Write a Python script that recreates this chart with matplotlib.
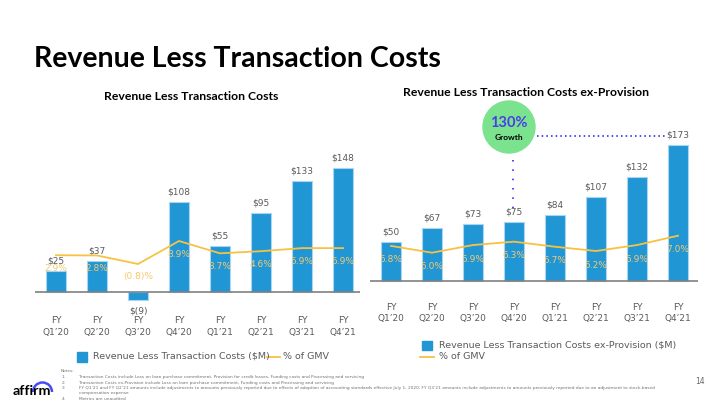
import matplotlib
matplotlib.use("Agg")
import matplotlib.pyplot as plt
from matplotlib.patches import Circle, Rectangle, Arc

# ---------------- data ----------------
quarters = ["FY\nQ1\u201920", "FY\nQ2\u201920", "FY\nQ3\u201920", "FY\nQ4\u201920",
            "FY\nQ1\u201921", "FY\nQ2\u201921", "FY\nQ3\u201921", "FY\nQ4\u201921"]
rev_less_tc = [25, 37, -9, 108, 55, 95, 133, 148]
rev_less_tc_pct = [2.9, 2.8, -0.8, 8.9, 3.7, 4.6, 5.9, 5.9]
rev_ex_prov = [50, 67, 73, 75, 84, 107, 132, 173]
rev_ex_prov_pct = [5.8, 5.0, 5.9, 6.3, 5.7, 5.2, 5.9, 7.0]
growth_label = "130%"

BLUE = "#2196D5"
EDGE = "#a8d5f2"
YEL = "#F7C244"
YEL_TXT = "#F5C96E"
GRAY = "#5a5a5a"
TITLE_FONT = ["Lato", "DejaVu Sans"]

W, H = 720, 405
fig = plt.figure(figsize=(7.2, 4.05), dpi=100)


def px_axes(left, top, right, bottom):
    return fig.add_axes([left / W, (H - bottom) / H, (right - left) / W, (bottom - top) / H])


def money(v):
    return f"$({abs(v)})" if v < 0 else f"${v}"


def pct(v):
    return f"({abs(v):.1f})%" if v < 0 else f"{v:.1f}%"


def panel(ax, vals, pcts, zero_px, top_px, bot_px, px_per_unit, pct_zero_px, px_per_pct,
          first_center, spacing, left_px, right_px, tick_pad, pct_off):
    x = list(range(len(vals)))
    ax.set_xlim((left_px - first_center) / spacing, (right_px - first_center) / spacing)
    ax.set_ylim(-(bot_px - zero_px) / px_per_unit, (zero_px - top_px) / px_per_unit)
    ax.bar(x, vals, width=20 / spacing, color=BLUE, edgecolor=EDGE, linewidth=0.8, zorder=2)
    ax.axhline(0, color="#808080", lw=1.2, zorder=3)
    for s in ax.spines.values():
        s.set_visible(False)
    ax.set_yticks([])
    ax.set_xticks(x)
    ax.set_xticklabels(quarters, fontsize=6.5, color=GRAY, linespacing=1.35)
    ax.tick_params(axis="x", length=0, pad=tick_pad)
    for xi, v in zip(x, vals):
        ax.annotate(money(v), (xi, v), xytext=(0, 10 if v >= 0 else -11),
                    textcoords="offset pixels", ha="center", va="center",
                    fontsize=6.5, color=GRAY, zorder=5)
    ax2 = ax.twinx()
    ax2.set_ylim((pct_zero_px - bot_px) / px_per_pct, (pct_zero_px - top_px) / px_per_pct)
    ax2.plot(x, pcts, color=YEL, lw=1.3, zorder=4)
    for xi, p in zip(x, pcts):
        ax2.annotate(pct(p), (xi, p), xytext=(0, -pct_off), textcoords="offset pixels",
                     ha="center", va="center", fontsize=6.5, color=YEL_TXT, zorder=5)
    ax2.set_yticks([])
    for s in ax2.spines.values():
        s.set_visible(False)
    return ax, ax2


# left panel
axL = px_axes(35, 150, 360, 305)
panel(axL, rev_less_tc, rev_less_tc_pct, zero_px=292, top_px=150, bot_px=305,
      px_per_unit=0.836, pct_zero_px=262.1, px_per_pct=2.37,
      first_center=56, spacing=41, left_px=35, right_px=360, tick_pad=8, pct_off=13)

# right panel
axR = px_axes(370, 130, 698, 290)
panel(axR, rev_ex_prov, rev_ex_prov_pct, zero_px=281, top_px=130, bot_px=290,
      px_per_unit=0.786, pct_zero_px=295.2, px_per_pct=8.5,
      first_center=391, spacing=41, left_px=370, right_px=698, tick_pad=9, pct_off=14)

# overlay in pixel coordinates
ov = fig.add_axes([0, 0, 1, 1], zorder=10)
ov.set_xlim(0, W)
ov.set_ylim(H, 0)
ov.axis("off")
ov.patch.set_alpha(0)

ov.text(34, 67.3, "Revenue Less Transaction Costs", fontsize=20.5, fontweight="bold",
        family=TITLE_FONT, color="black", ha="left", va="baseline")
ov.text(191, 96, "Revenue Less Transaction Costs", fontsize=8.8, fontweight="bold",
        family=TITLE_FONT, color="black", ha="center", va="center")
ov.text(526, 92, "Revenue Less Transaction Costs ex-Provision", fontsize=8.8, fontweight="bold",
        family=TITLE_FONT, color="black", ha="center", va="center")

# growth bubble
ov.add_patch(Circle((509, 127), 26, color="#7BE38E", zorder=2))
ov.text(509, 123, growth_label, fontsize=10.5, fontweight="bold", family=TITLE_FONT,
        color="#4A3FE6", ha="center", va="center", zorder=3)
ov.text(509, 137.5, "Growth", fontsize=6, fontweight="bold", family=TITLE_FONT,
        color="black", ha="center", va="center", zorder=3)
ov.plot([537, 665], [136, 136], color="#4E49F0", lw=1.4, ls=(0, (0.8, 1.6)))
ov.plot([513, 513], [160, 208], color="#4E49F0", lw=1.4, ls=(0, (0.8, 4)))

# legends
ov.add_patch(Rectangle((77, 352), 10, 9.5, color=BLUE))
ov.text(93, 356.5, "Revenue Less Transaction Costs ($M)", fontsize=6.8, color=GRAY,
        ha="left", va="center")
ov.plot([267, 280], [356.5, 356.5], color=YEL, lw=1.3)
ov.text(283, 356.5, "% of GMV", fontsize=6.8, color=GRAY, ha="left", va="center")

ov.add_patch(Rectangle((422, 341), 9.5, 8.5, color=BLUE))
ov.text(439, 345, "Revenue Less Transaction Costs ex-Provision ($M)", fontsize=6.8, color=GRAY,
        ha="left", va="center")
ov.plot([420, 434], [356.7, 356.7], color=YEL, lw=1.3)
ov.text(439, 356.7, "% of GMV", fontsize=6.8, color=GRAY, ha="left", va="center")

# notes
NOTE_C = "#707070"
NOTE_FS = 3.1
ov.text(61, 371.5, "Notes:", fontsize=NOTE_FS, color=NOTE_C, ha="left", va="center")
notes = [
    ("1.", "Transaction Costs include Loss on loan purchase commitment, Provision for credit losses, Funding costs and Processing and servicing", 377.3),
    ("2.", "Transaction Costs ex-Provision include Loss on loan purchase commitment, Funding costs and Processing and servicing", 382.7),
    ("3.", "FY Q1\u201921 and FY Q2\u201921 amounts include adjustments to amounts previously reported due to effects of adoption of accounting standards effective July 1, 2020; FY Q3\u201921 amounts include adjustments to amounts previously reported due to an adjustment to stock-based", 388.3),
    ("", "compensation expense", 393.3),
    ("4.", "Metrics are unaudited", 399.5),
]
for num, txt, y in notes:
    if num:
        ov.text(62, y, num, fontsize=NOTE_FS, color=NOTE_C, ha="left", va="center")
    ov.text(79, y, txt, fontsize=NOTE_FS, color=NOTE_C, ha="left", va="center")

# logo
ov.text(13, 395, "affirm", fontsize=10.3, fontweight="bold", family=TITLE_FONT,
        color="black", ha="left", va="baseline")
ov.add_patch(Arc((42.5, 392), 19, 19, theta1=180, theta2=360, color="#4A4AF4", lw=1.8))

ov.text(700, 382, "14", fontsize=5.5, color="#666666", ha="center", va="center")

fig.savefig("out.png", dpi=100)
